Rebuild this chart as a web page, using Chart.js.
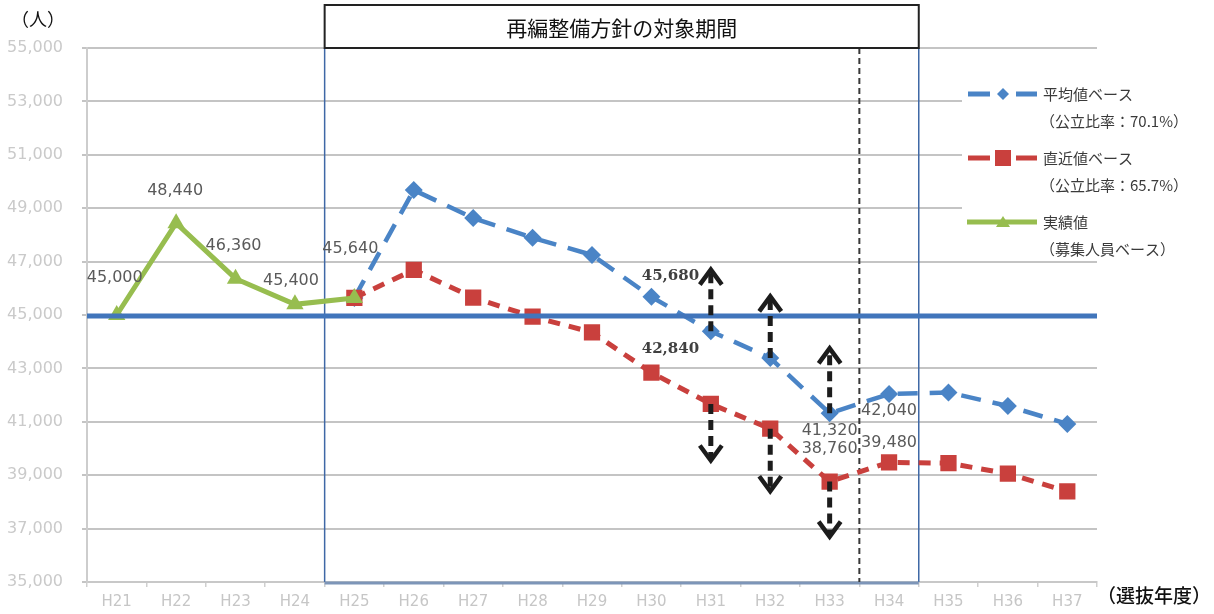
<!DOCTYPE html>
<html>
<head>
<meta charset="utf-8">
<script src="https://cdn.jsdelivr.net/npm/chart.js@4/dist/chart.umd.min.js"></script>
<style>
  html, body { margin: 0; padding: 0; background: #fff; }
  #wrap { width: 1214px; height: 614px; position: relative; }
</style>
</head>
<body>
<div id="wrap"><canvas id="chart" width="1214" height="614"></canvas></div>
<script>
// 選抜年度
const years = ['H21','H22','H23','H24','H25','H26','H27','H28','H29','H30','H31','H32','H33','H34','H35','H36','H37'];

// 実績値（募集人員ベース）
const actualValues = [45000, 48440, 46360, 45400, 45640, null, null, null, null, null, null, null, null, null, null, null, null];
// 平均値ベース（公立比率：70.1%）
const averageBase = [null, null, null, null, 45640, 49680, 48630, 47890, 47250, 45680, 44390, 43390, 41320, 42040, 42100, 41590, 40920];
// 直近値ベース（公立比率：65.7%）
const recentBase = [null, null, null, null, 45640, 46690, 45650, 44940, 44350, 42840, 41670, 40740, 38760, 39480, 39450, 39060, 38390];

// 基準となる人数
const baselineValue = 45000;

// 縦軸
const yMin = 35000;
const yMax = 55000;
const yStep = 2000;

// 再編整備方針の対象期間（H25〜H34）と区切り（H33/H34の間）
const periodFirst = 'H25';
const periodLast = 'H34';
const dividerAfter = 'H33';

// 増減幅を示す矢印（上端・下端の人数）
const arrowYears = ['H31', 'H32', 'H33'];
const arrowUpTo = [46700, 45700, 43750];
const arrowDownTo = [39550, 38400, 36700];

const seriesNames = [
  ['平均値ベース', '（公立比率：70.1%）'],
  ['直近値ベース', '（公立比率：65.7%）'],
  ['実績値', '（募集人員ベース）']
];

const BLUE = '#4a84c6';
const RED = '#c9403d';
const GREEN = '#97bd4f';
const LINE_BLUE = '#4175bb';
const JP = '"Noto Sans CJK JP", "Noto Sans", sans-serif';

// 値ラベル：[系列, 年度, dx, dy, 書体]
const valueLabels = [
  [2, 'H21', -2, -37, 'plain'],
  [2, 'H22', -1, -32, 'plain'],
  [2, 'H23', -2, -33, 'plain'],
  [2, 'H24', -4, -23, 'plain'],
  [2, 'H25', -4, -49, 'plain'],
  [0, 'H30', 19, -21, 'bold'],
  [1, 'H30', 19, -24, 'bold'],
  [0, 'H33', 0, 18, 'plain'],
  [1, 'H33', 0, -33, 'plain'],
  [0, 'H34', 0, 17, 'plain'],
  [1, 'H34', 0, -20, 'plain']
];

const fmt = v => v.toLocaleString('en-US');

const decorations = {
  id: 'decorations',
  beforeDatasetsDraw(chart) {
    const { ctx, chartArea: a, scales: { x } } = chart;
    const step = x.getPixelForValue(1) - x.getPixelForValue(0);
    const left = x.getPixelForValue(years.indexOf(periodFirst)) - step / 2;
    const right = x.getPixelForValue(years.indexOf(periodLast)) + step / 2;
    ctx.save();
    // 対象期間の枠
    ctx.strokeStyle = '#3f68a6';
    ctx.lineWidth = 1.5;
    ctx.beginPath();
    ctx.moveTo(left, a.top);
    ctx.lineTo(left, a.bottom);
    ctx.moveTo(right, a.top);
    ctx.lineTo(right, a.bottom);
    ctx.stroke();
    ctx.strokeStyle = '#7d95b8';
    ctx.lineWidth = 3;
    ctx.beginPath();
    ctx.moveTo(left, a.bottom + 1);
    ctx.lineTo(right, a.bottom + 1);
    ctx.stroke();
    // 区切りの破線
    const dx = x.getPixelForValue(years.indexOf(dividerAfter)) + step / 2;
    ctx.strokeStyle = '#383838';
    ctx.lineWidth = 2;
    ctx.setLineDash([6, 4]);
    ctx.beginPath();
    ctx.moveTo(dx, a.top);
    ctx.lineTo(dx, a.bottom);
    ctx.stroke();
    ctx.restore();
  },
  afterDatasetsDraw(chart) {
    const { ctx, chartArea: a, scales: { x, y } } = chart;
    ctx.save();
    // 基準線
    const by = y.getPixelForValue(baselineValue) + 1;
    ctx.strokeStyle = LINE_BLUE;
    ctx.lineWidth = 5;
    ctx.beginPath();
    ctx.moveTo(a.left, by);
    ctx.lineTo(a.right, by);
    ctx.stroke();

    // 矢印
    const arrow = (px, fromV, toV) => {
      const y0 = y.getPixelForValue(fromV);
      const y1 = y.getPixelForValue(toV);
      const dir = Math.sign(y1 - y0);
      ctx.strokeStyle = '#1c1c1c';
      ctx.lineWidth = 5;
      ctx.lineCap = 'butt';
      ctx.setLineDash([10, 6]);
      ctx.beginPath();
      ctx.moveTo(px, y0);
      ctx.lineTo(px, y1 - dir * 3);
      ctx.stroke();
      ctx.setLineDash([]);
      ctx.lineWidth = 4.5;
      ctx.lineJoin = 'miter';
      ctx.beginPath();
      ctx.moveTo(px - 11, y1 - dir * 15);
      ctx.lineTo(px, y1);
      ctx.lineTo(px + 11, y1 - dir * 15);
      ctx.stroke();
    };
    arrowYears.forEach((yr, i) => {
      const idx = years.indexOf(yr);
      const px = x.getPixelForValue(idx);
      arrow(px, averageBase[idx], arrowUpTo[i]);
      arrow(px, recentBase[idx], arrowDownTo[i]);
    });

    // 値ラベル
    const sources = [averageBase, recentBase, actualValues];
    ctx.textAlign = 'center';
    ctx.textBaseline = 'middle';
    valueLabels.forEach(([s, yr, ox, oy, kind]) => {
      const idx = years.indexOf(yr);
      const v = sources[s][idx];
      const px = x.getPixelForValue(idx) + ox;
      const py = y.getPixelForValue(v) + oy;
      if (kind === 'bold') {
        ctx.font = 'bold 15px "DejaVu Serif", serif';
        ctx.fillStyle = '#404040';
      } else {
        ctx.font = '16px "DejaVu Sans", sans-serif';
        ctx.fillStyle = '#5a5a5a';
      }
      ctx.fillText(fmt(v), px, py);
    });
    ctx.restore();
  },
  afterDraw(chart) {
    const { ctx, chartArea: a, scales: { x } } = chart;
    const step = x.getPixelForValue(1) - x.getPixelForValue(0);
    const left = x.getPixelForValue(years.indexOf(periodFirst)) - step / 2;
    const right = x.getPixelForValue(years.indexOf(periodLast)) + step / 2;
    ctx.save();
    // 見出し枠
    ctx.fillStyle = '#fff';
    ctx.fillRect(left, 5, right - left, a.top - 5);
    ctx.strokeStyle = '#222';
    ctx.lineWidth = 2;
    ctx.strokeRect(left, 5, right - left, a.top - 5);
    ctx.fillStyle = '#111';
    ctx.font = '21px ' + JP;
    ctx.textAlign = 'center';
    ctx.textBaseline = 'middle';
    ctx.fillText('再編整備方針の対象期間', (left + right) / 2, 28);

    // 軸タイトル
    ctx.textAlign = 'left';
    ctx.font = '18px ' + JP;
    ctx.fillText('（人）', 11, 19);
    ctx.font = '500 19px ' + JP;
    ctx.fillText('（選抜年度）', 1097, 596);

    // 凡例
    ctx.fillStyle = '#fff';
    ctx.fillRect(962, 74, 1214 - 962, 184);
    const rows = [
      { color: BLUE, style: 'diamond', y: 94 },
      { color: RED, style: 'square', y: 158 },
      { color: GREEN, style: 'triangle', y: 222 }
    ];
    rows.forEach((r, i) => {
      ctx.strokeStyle = r.color;
      ctx.fillStyle = r.color;
      ctx.lineWidth = 5;
      ctx.setLineDash([]);
      ctx.beginPath();
      if (r.style === 'triangle') {
        ctx.moveTo(967, r.y);
        ctx.lineTo(1037, r.y);
      } else {
        ctx.moveTo(968, r.y);
        ctx.lineTo(990, r.y);
        ctx.moveTo(1016, r.y);
        ctx.lineTo(1037, r.y);
      }
      ctx.stroke();
      const cx = 1003;
      ctx.beginPath();
      if (r.style === 'diamond') {
        ctx.moveTo(cx, r.y - 6); ctx.lineTo(cx + 6, r.y); ctx.lineTo(cx, r.y + 6); ctx.lineTo(cx - 6, r.y);
      } else if (r.style === 'square') {
        ctx.rect(cx - 8, r.y - 8, 16, 16);
      } else {
        ctx.moveTo(cx, r.y - 6); ctx.lineTo(cx + 7, r.y + 5); ctx.lineTo(cx - 7, r.y + 5);
      }
      ctx.closePath();
      ctx.fill();
      ctx.fillStyle = '#3a3a3a';
      ctx.font = '15px ' + JP;
      ctx.textAlign = 'left';
      ctx.textBaseline = 'middle';
      ctx.fillText(seriesNames[i][0], 1043, r.y);
      ctx.fillText(seriesNames[i][1], 1040, r.y + 27);
    });
    ctx.restore();
  }
};

new Chart(document.getElementById('chart'), {
  type: 'line',
  data: {
    labels: years,
    datasets: [
      {
        label: seriesNames[0].join(''),
        data: averageBase,
        borderColor: BLUE,
        backgroundColor: BLUE,
        borderWidth: 4.5,
        borderDash: [20, 12],
        pointStyle: 'rectRot',
        pointRadius: 9,
        pointBorderWidth: 0,
        tension: 0,
        spanGaps: false,
        order: 3
      },
      {
        label: seriesNames[1].join(''),
        data: recentBase,
        borderColor: RED,
        backgroundColor: RED,
        borderWidth: 5,
        borderDash: [12, 9],
        pointStyle: 'rect',
        pointRadius: 11.5,
        pointBorderWidth: 0,
        tension: 0,
        order: 2
      },
      {
        label: seriesNames[2].join(''),
        data: actualValues,
        borderColor: GREEN,
        backgroundColor: GREEN,
        borderWidth: 5,
        pointStyle: 'triangle',
        pointRadius: 10,
        pointBorderWidth: 0,
        tension: 0,
        order: 1
      }
    ]
  },
  options: {
    responsive: false,
    animation: false,
    devicePixelRatio: 1,
    locale: 'en-US',
    layout: { padding: { top: 48, right: 117, bottom: 0, left: 0 } },
    plugins: { legend: { display: false }, tooltip: { enabled: false } },
    scales: {
      x: {
        offset: true,
        grid: { display: true, offset: true, drawOnChartArea: false, drawTicks: true, tickLength: 5, color: '#cfcfcf', lineWidth: 1.5 },
        border: { display: true, color: '#c8c8c8', width: 2 },
        ticks: { color: '#c6c6c6', font: { family: 'DejaVu Sans', size: 15 }, padding: 6, maxRotation: 0, autoSkip: false },
        afterFit(scale) { scale.height = 32; }
      },
      y: {
        min: yMin,
        max: yMax,
        ticks: { stepSize: yStep, color: '#cacaca', font: { family: 'DejaVu Sans', size: 16 }, padding: 19 },
        grid: { color: '#c4c4c4', lineWidth: 2, tickLength: 5 },
        border: { display: true, color: '#cdcdcd', width: 2 },
        afterFit(scale) { scale.width = 87; }
      }
    }
  },
  plugins: [decorations]
});
</script>
</body>
</html>
